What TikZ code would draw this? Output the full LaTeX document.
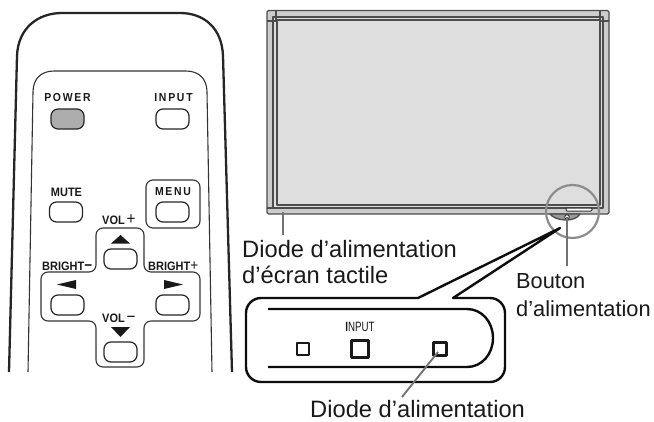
\documentclass[tikz,border=0pt]{standalone}
\usepackage{fontspec}
\setmainfont{Liberation Sans}
\begin{document}
\begin{tikzpicture}[x=1pt,y=-1pt,line join=round,
  rcbtn/.style={draw=black!85,line width=1.2pt,fill=white,rounded corners=7pt,minimum width=33pt,minimum height=20pt,inner sep=0pt},
  keylbl/.style={inner sep=0pt,xscale=0.9,font=\fontsize{12.2}{12}\selectfont\bfseries,text=black!90},
  calloutlbl/.style={inner sep=0pt,anchor=base west,font=\fontsize{23.7}{24}\selectfont,text=black!90},
  boutonlbl/.style={calloutlbl,font=\fontsize{21.8}{24}\selectfont},
  sq/.style={draw=black!90,line width=2.6pt,inner sep=0pt},
  leader/.style={draw=black!55,line width=1.9pt},
  tri/.style={fill=black!90,draw=none},
  thin frame/.style={draw=black!80,line width=1.1pt},
  monline/.style={draw=black!70,line width=1.3pt}]
\useasboundingbox (0,0) rectangle (654,421);
% remote body
\draw[line width=2.3pt,draw=black!85,line cap=butt] (9,372) -- (17,56) .. controls (18,28) and (38,13) .. (62,13) -- (180,13) .. controls (204,13) and (222,28) .. (223,56) -- (232,372);
\draw[thin frame] (28,372) -- (33,92) .. controls (33,79) and (41,71) .. (54,71) -- (186,71) .. controls (199,71) and (207,79) .. (207,92) -- (212,372);
% menu frame
\draw[thin frame,rounded corners=7pt] (146,228) -- (146,180) -- (200,180) -- (200,228) -- cycle;
% cross
\draw[thin frame,fill=white,rounded corners=7pt] (96,272) -- (96,228) -- (144,228) -- (144,272) -- (200,272) -- (200,321) -- (144,321) -- (144,367) -- (96,367) -- (96,321) -- (41,321) -- (41,272) -- cycle;
% buttons
\node[rcbtn,fill=black!32] (bpower) at (67.5,119) {};
\node[rcbtn] (binput) at (172.5,119) {};
\node[rcbtn] (bmute) at (66,212) {};
\node[rcbtn] (bmenu) at (172.5,212) {};
\node[rcbtn] (bup) at (120.5,259) {};
\node[rcbtn] (bleft) at (67.5,305) {};
\node[rcbtn] (bright) at (172.5,305) {};
\node[rcbtn] (bdown) at (120.5,352) {};
\fill[tri] (120.5,235) -- (130,243.5) -- (111,243.5) -- cycle;
\fill[tri] (57,284.5) -- (76,280) -- (76,289) -- cycle;
\fill[tri] (183,284.5) -- (164,280) -- (164,289) -- cycle;
\fill[tri] (120.5,337) -- (130,327) -- (111,327) -- cycle;
% key labels
\node[keylbl,font=\fontsize{11.6}{12}\selectfont\bfseries] (lpower) at (67.5,98) {P\,O\,W\,E\,R};
\node[keylbl,font=\fontsize{11.6}{12}\selectfont\bfseries] (linput) at (173.5,98) {I\,N\,P\,U\,T};
\node[keylbl] (lmute) at (66.5,192) {MUTE};
\node[keylbl,font=\fontsize{11.6}{12}\selectfont\bfseries] (lmenu) at (173,192) {M\,E\,N\,U};
\node[keylbl,anchor=base west] (lvolp) at (102,224) {VOL\,\fontsize{17}{17}\selectfont\mdseries +};
\node[keylbl,anchor=base west] (lvolm) at (102,322) {VOL\,\fontsize{17}{17}\selectfont\mdseries −};
\node[keylbl,anchor=base west] (lbrm) at (42,270) {BRIGHT\fontsize{15}{15}\selectfont −};
\node[keylbl,anchor=base west] (lbrp) at (148,270) {BRIGHT\fontsize{15}{15}\selectfont\mdseries +};
% monitor
\draw[fill=black!20,draw=black!70,line width=1.3pt,rounded corners=1.5pt] (267,10.5) rectangle (609,214);
\draw[monline,fill=black!13] (273,17) rectangle (603,208);
\draw[monline] (277,20) rectangle (600,205);
\draw[monline] (276,10.5) -- (276,20);
\draw[monline] (267,21) -- (277,21);
\draw[monline] (600,10.5) -- (600,20);
\draw[monline] (600,21) -- (609,21);
\draw[monline] (267,208) -- (273,208);
\draw[monline,fill=black!40] (550,214) .. controls (555,221) and (575,223) .. (580,214) -- cycle;
\draw[black!80,line width=1pt,fill=white,rounded corners=1pt] (566,208) rectangle (592,211);
\node[circle,draw=black!80,fill=white,line width=0.9pt,minimum size=4.5pt,inner sep=0pt] (pbtn) at (567,217) {};
\node[circle,draw=black!45,line width=2.2pt,minimum size=53pt,inner sep=0pt] (zoomring) at (572.5,211.5) {};
% callout
\draw[line width=2.4pt,draw=black!95,fill=white,rounded corners=15pt] (418,298) -- (246,298) -- (246,382) -- (505,382) -- (505,298) [sharp corners] -- (453,298) -- (560,228) -- cycle;
\draw[line width=2.4pt,draw=black!95] (268,309) -- (467,309) .. controls (482,309) and (493,322) .. (493,338) .. controls (493,354) and (482,367) .. (467,367) -- (268,367);
\node[sq,minimum size=12pt] (sqa) at (303,349) {};
\node[sq,minimum size=17.5pt] (sqb) at (360,349) {};
\node[sq,minimum size=13pt] (sqc) at (440,349) {};
\node[inner sep=0pt,xscale=0.72,font=\fontsize{13.5}{13}\selectfont,text=black!90] (linp2) at (360,327) {\textbf{I}NPUT};
% labels
\node[calloutlbl] (ldiodea) at (242,257) {Diode d’alimentation};
\node[calloutlbl] (ldiodeb) at (242,283) {d’écran tactile};
\node[boutonlbl] (lbouton) at (516,288) {Bouton};
\node[boutonlbl] (lboutonb) at (516,316) {d’alimentation};
\node[calloutlbl] (ldiodec) at (310,417) {Diode d’alimentation};
% leaders
\coordinate (ledframe) at (283,212);
\draw[leader] (ledframe) -- (283,235);
\coordinate (boutonend) at (567,266);
\draw[leader] (pbtn.center) -- (boutonend);
\coordinate (ledstart) at (438,352);
\coordinate (ledend) at (402,397);
\draw[leader] (ledstart) -- (ledend);
\end{tikzpicture}
\end{document}
